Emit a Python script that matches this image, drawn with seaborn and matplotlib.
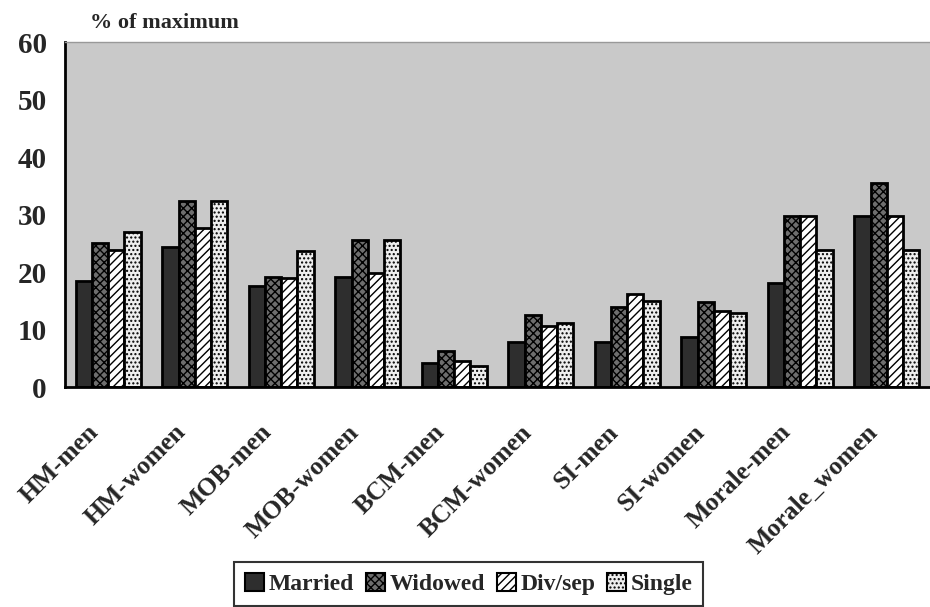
import matplotlib
matplotlib.use("Agg")
import matplotlib.pyplot as plt
from matplotlib.patches import Patch
import seaborn as sns
import pandas as pd
import numpy as np

categories = ["HM-men", "HM-women", "MOB-men", "MOB-women", "BCM-men",
              "BCM-women", "SI-men", "SI-women", "Morale-men", "Morale_women"]
series = ["Married", "Widowed", "Div/sep", "Single"]
married = [18.4, 24.3, 17.6, 19.2, 4.2, 7.9, 7.9, 8.7, 18.1, 29.7]
widowed = [25.0, 32.3, 19.1, 25.5, 6.3, 12.6, 13.9, 14.8, 29.7, 35.5]
divsep  = [23.9, 27.6, 19.0, 19.9, 4.5, 10.6, 16.1, 13.3, 29.7, 29.7]
single  = [26.9, 32.3, 23.7, 25.5, 3.7, 11.2, 14.9, 12.9, 23.9, 23.9]
yticks = [0, 10, 20, 30, 40, 50, 60]

rows = []
for name, vals in zip(series, [married, widowed, divsep, single]):
    for c, v in zip(categories, vals):
        rows.append({"cat": c, "status": name, "value": v})
df = pd.DataFrame(rows)

sns.set_theme(style="white")
plt.rcParams["font.family"] = ["Liberation Serif", "DejaVu Serif"]
plt.rcParams["font.weight"] = "bold"
plt.rcParams["hatch.linewidth"] = 1.0

fills = ["#2e2e2e", "#6e6e6e", "#ffffff", "#eeeeee"]
hatches = ["", "xxxx", "////", "...."]

fig = plt.figure(figsize=(9.3, 6.07), dpi=100)
ax = fig.add_axes([0.0699, 0.3624, 0.9301, 0.5684])
ax.set_facecolor("#c9c9c9")

sns.barplot(data=df, x="cat", y="value", hue="status", order=categories,
            hue_order=series, palette=fills, width=0.75, saturation=1,
            legend=False, ax=ax, edgecolor="black", linewidth=2)

for cont, h in zip(ax.containers, hatches):
    for p in cont.patches:
        p.set_hatch(h)
        p.set_edgecolor("black")
        p.set_linewidth(2)

ax.set_xlim(-0.5, 9.5)
ax.set_ylim(0, 60)
ax.set_yticks(yticks)
ax.set_yticklabels([str(t) for t in yticks], fontsize=21, fontweight="bold")
# label anchors sit slightly left of each group centre, as in the reference
ax.set_xticks(np.arange(len(categories)) - 0.15)
ax.set_xticklabels(categories, rotation=45, ha="right", va="center",
                   rotation_mode="anchor", fontsize=18.5, fontweight="bold")
ax.set_xticks(np.arange(-0.5, 10, 1.0), minor=True)
ax.tick_params(axis="x", which="major", length=0, pad=30)
ax.tick_params(axis="x", which="minor", length=8, width=2, direction="out", color="black")
ax.tick_params(axis="y", length=9, width=2, direction="out", color="black", pad=4)
ax.set_xlabel("")
ax.set_ylabel("")

for s in ["left", "bottom"]:
    ax.spines[s].set_color("black")
    ax.spines[s].set_linewidth(2)
ax.spines["top"].set_color("#999999")
ax.spines["top"].set_linewidth(1)
ax.spines["right"].set_visible(False)

fig.text(0.097, 0.962, "% of maximum", fontsize=16, fontweight="bold", ha="left", va="center")

handles = [Patch(facecolor=f, edgecolor="black", hatch=h, linewidth=1.5)
           for f, h in zip(fills, hatches)]
leg = fig.legend(handles, series, loc="center", bbox_to_anchor=(0.504, 0.038),
                 ncol=4, frameon=True, handlelength=0.8, handleheight=0.8,
                 handletextpad=0.2, columnspacing=0.5, borderpad=0.45, fancybox=False,
                 prop={"weight": "bold", "size": 17})
leg.get_frame().set_edgecolor("black")
leg.get_frame().set_linewidth(1.5)

fig.savefig("out.png", dpi=100)
